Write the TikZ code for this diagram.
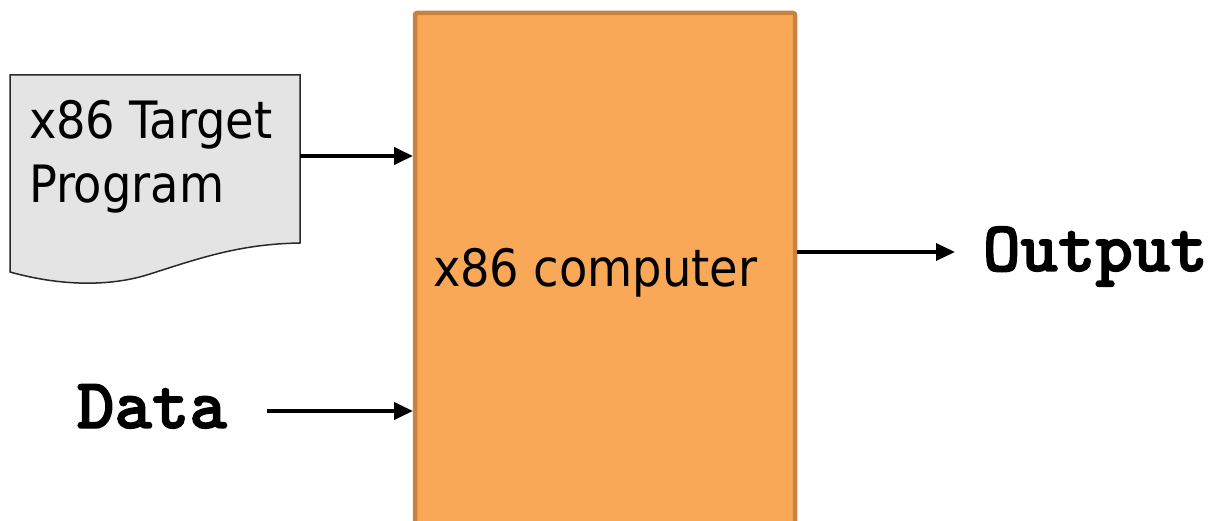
\documentclass[tikz,border=0pt]{standalone}
\usepackage{fontspec}
\setmainfont{DejaVu Sans Condensed}
\newfontfamily\codefont{lmmonolt10-bold.otf}[FakeBold=2]
\usetikzlibrary{arrows.meta}
\definecolor{cpufill}{RGB}{249,168,87}
\definecolor{cpuline}{RGB}{200,130,64}
\definecolor{docfill}{RGB}{228,228,228}
\definecolor{docline}{RGB}{40,40,40}
\tikzset{
  cpubox/.style={draw=cpuline, fill=cpufill, line width=4.5pt, rounded corners=2pt,
    rectangle, inner sep=0pt, outer sep=0pt},
  labeltext/.style={inner sep=0pt, outer sep=0pt, font=\fontsize{51.5}{60}\selectfont},
  codetext/.style={inner sep=0pt, outer sep=0pt, font=\codefont\fontsize{71.4}{80}\selectfont},
  flow/.style={line width=4pt, -{Triangle[length=19pt,width=17pt]}},
}
\begin{document}
\begin{tikzpicture}[x=1pt,y=-1pt]
\useasboundingbox (0,0) rectangle (1218,521);
\clip (0,0) rectangle (1218,521);

% the machine that runs the program
\node[cpubox, minimum width=380pt, minimum height=560pt, anchor=north west] (cpu) at (415,13) {};
\node[labeltext, anchor=base west] (cpulabel) at (433,287) {x86 computer};

% the program document with its wavy lower edge
\node[rectangle, inner sep=0pt, outer sep=0pt, minimum width=290pt, minimum height=208pt,
      anchor=north west] (doc) at (10,75) {};
\draw[draw=docline, fill=docfill, line width=1.5pt]
  (doc.north west) -- (doc.north east) -- (300,243)
  .. controls (240,244) and (200,258) .. (150,274)
  .. controls (110,287) and (60,286) .. (10,272) -- cycle;
\node[labeltext, anchor=base west] (progA) at (29,139) {x86 Target};
\node[labeltext, anchor=base west] (progB) at (29,203) {Program};

% inputs and output
\node[codetext, anchor=base west] (data) at (77,428) {Data};
\node[codetext, anchor=base west] (out) at (983,271) {Output};

\coordinate (yprog) at (0,156);
\coordinate (ydata) at (0,411);
\coordinate (yout) at (0,252);
\coordinate (dstart) at ([xshift=40pt]data.east);
\coordinate (ostop) at ([xshift=-28pt]out.west);

\draw[flow] (doc.east |- yprog) -- ([xshift=-2pt]cpu.west |- yprog);
\draw[flow] (dstart |- ydata) -- ([xshift=-2pt]cpu.west |- ydata);
\draw[flow, line width=3.5pt] ([xshift=2pt]cpu.east |- yout) -- (ostop |- yout);
\end{tikzpicture}
\end{document}
